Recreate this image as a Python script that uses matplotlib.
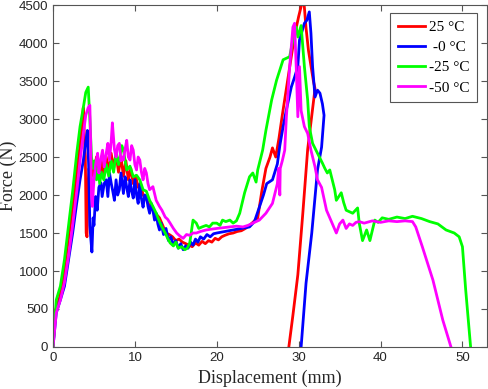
import numpy as np
import matplotlib
matplotlib.use("Agg")
import matplotlib.pyplot as plt

# force-displacement curves (x in mm, y in N)
red_pts = [(0, 0), (0.3, 480), (0.8, 650), (1.3, 950), (1.8, 1350), (2.3, 1750), (2.7, 2100),
           (3.0, 2400), (3.3, 2650), (3.5, 2900), (3.7, 3150), (3.85, 2700), (3.95, 2500),
           (4.05, 1500), (4.15, 1450), (4.25, 2100), (4.4, 2350), (4.6, 2150), (4.8, 2450),
           (5.0, 2250), (5.3, 2500), (5.6, 2200), (5.9, 2450), (6.2, 2250), (6.5, 2500),
           (6.8, 2300), (7.1, 2550), (7.4, 2350), (7.7, 2550), (8.0, 2300), (8.3, 2500),
           (8.6, 2250), (8.9, 2450), (9.2, 2200), (9.5, 2350), (9.8, 2150), (10.1, 2250),
           (10.4, 2100), (10.7, 2150), (11.0, 2000), (11.4, 1950), (11.8, 1850), (12.2, 1800),
           (12.6, 1750), (13.0, 1700), (13.4, 1600), (13.8, 1500), (14.2, 1480), (14.6, 1450),
           (15.0, 1400), (15.4, 1420), (15.8, 1380), (16.2, 1360), (16.6, 1340), (17.0, 1320),
           (17.4, 1370), (17.8, 1340), (18.2, 1390), (18.6, 1360), (19.0, 1400), (19.4, 1380),
           (19.8, 1430), (20.2, 1410), (20.6, 1450), (21.0, 1470), (21.5, 1490), (22.0, 1500),
           (22.5, 1520), (23.0, 1530), (23.5, 1560), (24.0, 1600), (24.5, 1650), (25.0, 1700),
           (25.5, 2050), (26.0, 2350), (26.5, 2500), (26.8, 2620), (27.2, 2500), (27.6, 2750),
           (28.0, 3050), (28.5, 3400), (29.0, 3750), (29.5, 4100), (30.0, 4350), (30.3, 4480),
           (30.6, 4600), (30.9, 4200), (31.2, 3900), (31.5, 3700), (31.8, 3500), (32.0, 3400),
           (31.1, 2600), (30.5, 1750), (29.9, 950), (29.3, 420), (28.8, 0)]

blue_pts = [(0, 0), (0.4, 450), (0.9, 620), (1.4, 800), (1.9, 1150), (2.4, 1500), (2.9, 1900),
            (3.3, 2200), (3.7, 2450), (4.0, 2700), (4.2, 2850), (4.35, 2400), (4.5, 1600),
            (4.6, 1450), (4.75, 1250), (4.9, 1700), (5.0, 1600), (5.2, 1980), (5.4, 1800),
            (5.6, 2100), (5.85, 2160), (6.0, 1980), (6.25, 2150), (6.5, 2200), (6.7, 1980),
            (6.9, 2290), (7.1, 2160), (7.3, 2050), (7.5, 1930), (7.7, 2200), (7.9, 2000),
            (8.1, 2070), (8.3, 2290), (8.6, 2020), (8.8, 2240), (9.0, 2100), (9.2, 1980),
            (9.4, 2200), (9.6, 2050), (9.8, 1960), (10.0, 2200), (10.2, 2000), (10.4, 1890),
            (10.6, 2150), (10.8, 1950), (11.0, 1840), (11.2, 2000), (11.4, 1980), (11.6, 1850),
            (11.8, 1760), (12.0, 1890), (12.2, 1800), (12.4, 1670), (12.6, 1760), (12.8, 1620),
            (13.0, 1540), (13.2, 1630), (13.5, 1480), (13.8, 1560), (14.1, 1400), (14.4, 1450),
            (14.7, 1340), (15.0, 1400), (15.3, 1300), (15.6, 1360), (15.9, 1280), (16.2, 1330),
            (16.5, 1300), (16.8, 1380), (17.1, 1340), (17.4, 1420), (17.7, 1380), (18.0, 1450),
            (18.4, 1420), (18.8, 1480), (19.2, 1450), (19.6, 1490), (20.0, 1500), (20.5, 1510),
            (21.0, 1520), (21.5, 1530), (22.0, 1540), (22.5, 1550), (23.0, 1560), (23.5, 1570),
            (24.0, 1580), (24.6, 1650), (25.2, 1840), (25.7, 2000), (26.1, 2150), (26.8, 2200),
            (27.4, 2410), (27.7, 2650), (28.1, 2900), (28.5, 3120), (29.1, 3420), (29.5, 3550),
            (29.9, 3690), (30.1, 4040), (30.7, 4260), (31.0, 4300), (31.3, 4410), (31.5, 4130),
            (31.7, 3690), (32.0, 3290), (32.3, 3380), (32.6, 3340), (32.9, 3200), (33.1, 3050),
            (32.8, 2630), (32.3, 2330), (31.6, 1500), (30.9, 840), (30.3, 0)]

green_pts = [(0, 0), (0.4, 620), (0.9, 800), (1.4, 1150), (1.9, 1600), (2.4, 2050), (2.9, 2550),
             (3.3, 2900), (3.7, 3150), (4.0, 3350), (4.3, 3420), (4.5, 3000), (4.7, 2500),
             (4.9, 2350), (5.1, 2450), (5.3, 2200), (5.5, 2350), (5.7, 2150), (5.9, 2300),
             (6.2, 2200), (6.5, 2400), (6.8, 2250), (7.1, 2450), (7.4, 2300), (7.7, 2550),
             (8.0, 2400), (8.4, 2650), (8.6, 2590), (9.0, 2330), (9.4, 2380), (9.8, 2240),
             (10.2, 2260), (10.6, 2200), (11.0, 2070), (11.4, 2050), (11.8, 1930), (12.2, 1850),
             (12.6, 1760), (13.0, 1650), (13.3, 1580), (13.7, 1500), (14.0, 1430), (14.3, 1370),
             (14.7, 1330), (15.0, 1380), (15.3, 1300), (15.7, 1320), (16.1, 1280), (16.4, 1300),
             (16.7, 1370), (17.1, 1670), (17.5, 1630), (17.8, 1560), (18.2, 1580), (18.7, 1600),
             (19.1, 1580), (19.5, 1630), (20.0, 1630), (20.4, 1600), (20.7, 1670), (21.1, 1650),
             (21.6, 1670), (22.0, 1630), (22.4, 1660), (22.8, 1760), (23.4, 2030), (24.0, 2240),
             (24.4, 2290), (24.8, 2170), (25.0, 2330), (25.6, 2590), (26.0, 2850), (26.7, 3250),
             (27.3, 3510), (28.1, 3780), (28.9, 3820), (29.3, 4040), (29.7, 4210), (29.9, 4080),
             (30.3, 4230), (30.7, 3690), (31.1, 3250), (31.3, 2900), (31.7, 2680), (32.3, 2550),
             (32.9, 2420), (33.2, 2350), (33.5, 2290), (33.8, 2330), (34.1, 2200), (34.4, 2070),
             (34.6, 1930), (35.2, 2030), (35.5, 1900), (35.8, 1800), (36.2, 1780), (36.6, 1760),
             (37.2, 1830), (37.4, 1630), (37.8, 1400), (38.3, 1540), (38.7, 1400), (39.3, 1670),
             (39.7, 1640), (40.2, 1700), (41.0, 1680), (42.0, 1710), (43.0, 1690), (43.9, 1720),
             (45.0, 1690), (46.0, 1650), (47.0, 1620), (48.0, 1540), (49.0, 1500), (49.6, 1450),
             (50.0, 1320), (50.4, 750), (51.0, 0)]

magenta_pts = [(0, 0), (0.4, 450), (0.9, 620), (1.4, 850), (1.9, 1200), (2.4, 1600), (2.9, 2050),
               (3.3, 2450), (3.7, 2800), (4.0, 3050), (4.3, 3150), (4.5, 3180), (4.6, 2700),
               (4.7, 2000), (4.8, 1850), (5.0, 2200), (5.2, 2400), (5.45, 2550), (5.6, 2290),
               (5.8, 2450), (6.05, 2590), (6.25, 2370), (6.5, 2550), (6.7, 2680), (6.9, 2460),
               (7.1, 2700), (7.25, 2950), (7.5, 2600), (7.7, 2500), (7.9, 2650), (8.1, 2680),
               (8.3, 2450), (8.5, 2500), (8.6, 2460), (8.8, 2600), (9.0, 2720), (9.2, 2500),
               (9.4, 2460), (9.6, 2650), (9.8, 2590), (10.0, 2400), (10.2, 2330), (10.4, 2500),
               (10.6, 2460), (10.8, 2300), (11.0, 2200), (11.2, 2350), (11.4, 2290), (11.6, 2150),
               (11.8, 2070), (12.2, 2110), (12.6, 1930), (13.0, 1850), (13.3, 1800), (13.7, 1710),
               (14.0, 1680), (14.3, 1630), (14.7, 1560), (15.1, 1500), (15.5, 1460), (15.9, 1430),
               (16.3, 1480), (16.7, 1470), (17.1, 1500), (17.5, 1500), (18.0, 1520), (18.7, 1540),
               (19.3, 1550), (20.0, 1560), (20.8, 1570), (21.6, 1580), (22.4, 1590), (23.2, 1580),
               (23.8, 1600), (24.4, 1630), (25.2, 1670), (26.0, 1760), (26.8, 1890), (27.4, 2150),
               (27.55, 2350), (27.7, 2000), (27.75, 2350), (28.0, 2450), (28.3, 2590), (28.5, 3030),
               (28.7, 3340), (28.9, 3690), (29.3, 4210), (29.5, 4260), (29.7, 3690), (29.9, 3030),
               (30.1, 3690), (30.3, 3110), (30.7, 2900), (31.1, 2810), (31.5, 2590), (32.0, 2370),
               (32.3, 2200), (32.8, 2100), (33.4, 1800), (34.0, 1650), (34.6, 1500), (35.0, 1620),
               (35.4, 1670), (35.8, 1560), (36.2, 1620), (36.6, 1600), (37.0, 1640), (37.4, 1650),
               (38.0, 1630), (39.0, 1660), (40.0, 1640), (41.0, 1660), (42.0, 1650), (43.0, 1660),
               (43.9, 1650), (44.3, 1580), (45.1, 1320), (46.4, 880), (47.6, 355), (48.6, 0)]

labels = ["25 \u00b0C", " -0 \u00b0C", "-25 \u00b0C", "-50 \u00b0C"]
colors = ["#ff0000", "#0000ff", "#00ff00", "#ff00ff"]
series = [red_pts, blue_pts, green_pts, magenta_pts]

fig = plt.figure(figsize=(4.89, 3.89), dpi=100)
ax = fig.add_axes([0.1084, 0.108, 0.8875, 0.879])

for pts, c, lab in zip(series, colors, labels):
    a = np.array(pts)
    ax.plot(a[:, 0], a[:, 1], color=c, lw=2.0, label=lab)

ax.set_xlim(0, 53)
ax.set_ylim(0, 4500)
ax.set_xticks([0, 10, 20, 30, 40, 50])
ax.set_yticks(np.arange(0, 4501, 500))

for s in ax.spines.values():
    s.set_color("#555555")
    s.set_linewidth(0.8)
ax.tick_params(direction="in", length=4, width=0.8, color="#555555",
               top=True, right=True, labelsize=9.5, labelcolor="#262626")
for t in ax.get_xticklabels() + ax.get_yticklabels():
    t.set_family("Liberation Sans")

ax.set_xlabel("Displacement (mm)", family="Liberation Serif", fontsize=13,
              color="#262626", labelpad=4)
ax.set_ylabel("Force (N)", family="Liberation Serif", fontsize=13,
              color="#262626")
ax.yaxis.set_label_coords(-0.082, 0.5)

leg = ax.legend(loc="upper right", bbox_to_anchor=(0.977, 0.977), borderaxespad=0,
                prop={"family": "Liberation Serif", "size": 11}, fancybox=False,
                framealpha=1, edgecolor="#555555", handlelength=1.8,
                handletextpad=0.25, labelspacing=0.42, borderpad=0.5)
leg.get_frame().set_linewidth(0.8)

fig.savefig("out.png", dpi=100)
